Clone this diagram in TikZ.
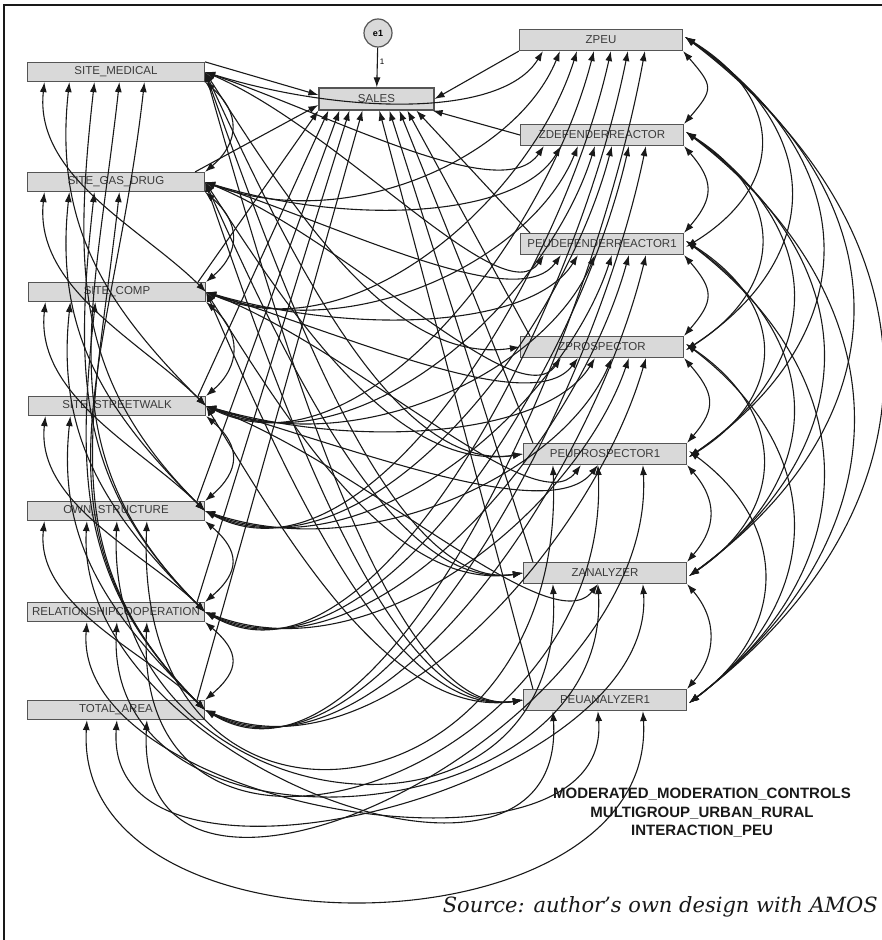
\documentclass[tikz,border=0pt]{standalone}
\usepackage{fontspec}
\setmainfont{Liberation Sans}
\newfontfamily\srcfont{DejaVu Serif}
\usetikzlibrary{arrows.meta,calc}
\definecolor{boxfill}{RGB}{217,217,217}
\definecolor{boxline}{RGB}{85,85,85}
\definecolor{ink}{RGB}{25,25,25}
\begin{document}
\begin{tikzpicture}[x=1pt,y=1pt,
  box/.style={draw=boxline, line width=1.2pt, fill=boxfill, minimum width=177pt, minimum height=19pt, inner sep=0pt, text=ink!85, font=\fontsize{11.5}{12}\selectfont},
  rbox/.style={box, minimum width=163pt, minimum height=21pt},
  cov/.style={{Latex[length=10pt,width=7pt]}-{Latex[length=10pt,width=7pt]}, line width=1.1pt, draw=ink},
  reg/.style={-{Latex[length=10pt,width=7pt]}, line width=1.1pt, draw=ink}]
\useasboundingbox (0,0) rectangle (882,940);
\draw[line width=1.6pt, ink] (4,0) -- (4,935) -- (882,935);
% left column
\node[box] (L0) at (116,868) {SITE\_MEDICAL};
\node[box] (L1) at (116,758) {SITE\_GAS\_DRUG};
\node[box] (L2) at (117,648) {SITE\_COMP};
\node[box] (L3) at (117,534) {SITE\_STREETWALK};
\node[box] (L4) at (116,429) {OWN\_STRUCTURE};
\node[box] (L5) at (116,328) {RELATIONSHIPCOOPERATION};
\node[box] (L6) at (116,230) {TOTAL\_AREA};
% right column
\node[rbox] (R0) at (601,900) {ZPEU};
\node[rbox] (R1) at (602,805) {ZDEFENDERREACTOR};
\node[rbox] (R2) at (602,696) {PEUDEFENDERREACTOR1};
\node[rbox] (R3) at (602,593) {ZPROSPECTOR};
\node[rbox] (R4) at (605,486) {PEUPROSPECTOR1};
\node[rbox] (R5) at (605,367) {ZANALYZER};
\node[rbox] (R6) at (605,240) {PEUANALYZER1};
% dependent
\node[box, minimum width=115pt, minimum height=22pt] (SALES) at (376.5,841) {SALES};
\node[circle, draw=boxline, line width=1.2pt, fill=boxfill, minimum size=28pt, inner sep=0pt, font=\fontsize{9}{10}\selectfont\bfseries] (e1) at (378,907) {e1};
\def\LYs{{868,758,648,534,429,328,230}}
\def\RYs{{900,805,696,593,486,367,240}}
% adjacent covariances
\foreach \i/\k in {0/1,1/2,2/3,3/4,4/5,5/6}{
  \draw[cov] (L\i.south east) .. controls +(35,-30) and +(35,30) .. (L\k.north east);
  \draw[cov] (R\i.south east) .. controls +(30,-35) and +(30,35) .. (R\k.north east);
}
% left-left non adjacent
\foreach \i in {0,...,4}{
  \pgfmathtruncatemacro\qst{\i+2}
  \foreach \k in {\qst,...,6}{
    \pgfmathsetmacro\qh{\LYs[\i]-9.5-\LYs[\k]}
    \pgfmathsetmacro\qlx{17.5+25*(\k-\i-2)}
    \pgfmathsetmacro\qa{-0.05*\qh}
    \pgfmathsetmacro\qb{-0.45*\qh}
    \pgfmathsetmacro\qc{-0.3*\qh}
    \pgfmathsetmacro\qd{0.3*\qh}
    \draw[cov] ($(L\i.south west)+(\qlx,0)$) .. controls +(\qa,\qb) and +(\qc,\qd) .. (L\k.east);
  }
}
% right-right non adjacent
\foreach \j in {0,...,4}{
  \pgfmathtruncatemacro\qst{\j+2}
  \foreach \k in {\qst,...,6}{
    \pgfmathsetmacro\qh{\RYs[\j]-\RYs[\k]}
    \pgfmathsetmacro\qbb{40*(\k-\j)+20}
    \pgfmathsetmacro\qhy{0.3*\qh}
    \draw[cov] ($(R\j.east)+(2,3)$) .. controls +(\qbb,-\qhy) and +(\qbb,\qhy) .. ($(R\k.east)+(2,-3)$);
  }
}
% left-right
\foreach \i in {0,...,6}{
  \foreach \j in {0,...,6}{
    \pgfmathtruncatemacro\qisU{and(\i>3,\j>3)}
    \pgfmathtruncatemacro\qisA{\RYs[\j]>=\LYs[\i]-250}
    \pgfmathsetmacro\qsx{24+17*\i}
    \ifnum\qisU=1
      \pgfmathsetmacro\qux{60+30*(6-\j)}
      \pgfmathsetmacro\qex{30+45*(\i-4)}
      \pgfmathsetmacro\qpb{(\i==6 && \j==6) ? 900 : 765+14*(\i+\j-8)}
      \pgfmathsetmacro\qD{(0.5*(\LYs[\i]-9.5+\RYs[\j]-10.5)-(940-\qpb))/0.75}
      \draw[cov] ($(L\i.south west)+(\qux,0)$) .. controls +(-15,-\qD) and +(15,-\qD) .. ($(R\j.south west)+(\qex,0)$);
    \else\ifnum\qisA=1
      \pgfmathsetmacro\qdx{\qsx+316}
      \pgfmathsetmacro\qdy{\RYs[\j]-10.5-\LYs[\i]}
      \pgfmathsetmacro\qax{0.4*\qdx}
      \pgfmathsetmacro\qay{-40-0.1*abs(\qdy)}
      \pgfmathsetmacro\qbx{-0.12*\qdx}
      \pgfmathsetmacro\qby{-60-0.35*max(\qdy,0)}
      \draw[cov] (L\i.east) .. controls +(\qax,\qay) and +(\qbx,\qby) .. ($(R\j.south west)+(\qsx,0)$);
    \else
      \pgfmathsetmacro\qdy{\RYs[\j]-\LYs[\i]}
      \pgfmathsetmacro\qcy{0.45*\qdy}
      \draw[cov] (L\i.east) .. controls +(80,\qcy) and +(-130,-20) .. (R\j.west);
    \fi\fi
  }
}
% regressions to SALES
\draw[reg] (e1) -- node[right, pos=0.35, font=\fontsize{8}{9}\selectfont, inner sep=2pt] {1} (SALES);
\draw[reg] (L0.north east) -- ($(SALES.west)+(0,4)$);
\draw[reg] ($(L1.north east)+(-10,0)$) -- ($(SALES.west)+(0,-6)$);
\foreach \i/\s in {2/0,3/10,4/21,5/31,6/44}{
  \draw[reg] ($(L\i.north east)+(-8,0)$) -- ($(SALES.south west)+(\s,0)$);
}
\draw[reg] (R0.south west) -- (SALES.east);
\draw[reg] (R1.west) -- ($(SALES.south east)+(-2,0)$);
\foreach \j/\s in {2/98,3/89,4/81,5/71,6/61}{
  \draw[reg] ($(R\j.north west)+(10,0)$) -- ($(SALES.south west)+(\s,0)$);
}
% texts
\node[font=\fontsize{15}{18.5}\selectfont\bfseries, align=center, text=ink] (title) at (702,127) {MODERATED\_MODERATION\_CONTROLS\\MULTIGROUP\_URBAN\_RURAL\\INTERACTION\_PEU};
\node[font=\srcfont\itshape\fontsize{21}{25}\selectfont, anchor=east, text=ink, inner sep=0pt] (src) at (878,33) {Source: author’s own design with AMOS};
\end{tikzpicture}
\end{document}
